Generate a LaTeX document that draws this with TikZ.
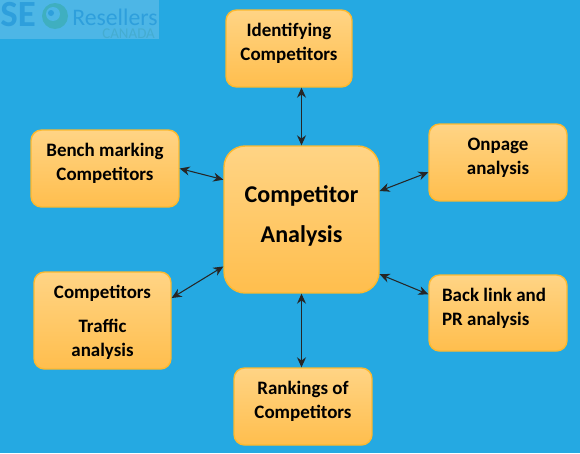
\documentclass[tikz,border=0pt]{standalone}
\usepackage{fontspec}
\setmainfont{Carlito}
\usepackage{xcolor}
\usetikzlibrary{arrows.meta,positioning}
\definecolor{skyc}{HTML}{25A9E2}
\definecolor{logobg}{HTML}{4DB6E6}
\definecolor{logoc}{HTML}{2E9FDC}
\definecolor{canc}{HTML}{45ACD0}
\definecolor{swirlc}{HTML}{3FAFC0}
\definecolor{topc}{HTML}{FFD485}
\definecolor{botc}{HTML}{FFBE4D}
\definecolor{linec}{HTML}{FDB92E}
\tikzset{
  ar/.style={{Stealth[length=2mm,width=1.8mm]}-{Stealth[length=2mm,width=1.8mm]},line width=0.6pt,black!85},
  box/.style={draw=linec,line width=0.8pt,top color=topc,bottom color=botc,rounded corners=6pt,align=center,inner sep=0pt,
    font=\fontsize{10.8}{13.7}\selectfont\bfseries,text=black,text depth=7.5pt,minimum height=1.54cm,minimum width=2.76cm},
  logotxt/.style={inner sep=0pt,anchor=base west}
}
\begin{document}
\begin{tikzpicture}[x=0.02cm,y=-0.02cm]
\fill[skyc] (0,0) rectangle (580,453);
\useasboundingbox (0,0) rectangle (580,453);
% logo
\fill[logobg] (0,0) rectangle (159,39);
\node[logotxt,text=logoc,font=\fontsize{21}{21}\selectfont\bfseries] (seo) at (0,26) {SE};
\fill[swirlc] (55,16) circle (13);
\fill[logobg] (53,14) circle (7);
\fill[logoc] (51,13) circle (3);
\node[logotxt,text=logoc,text depth=0pt,font=\fontsize{13.5}{13.5}\selectfont] (resellers) at (72,25) {Resellers};
\node[logotxt,text=canc,text height=5.5pt,font=\fontsize{8.5}{8.5}\selectfont] (canada) at (102,38.5) {CANADA};
% boxes
\node[box,draw=linec,rounded corners=12pt,minimum width=3.1cm,minimum height=2.94cm,text depth=6.5pt,
  font=\fontsize{13.7}{22.5}\selectfont\bfseries] (main) at (301.5,219.5) {Competitor\\Analysis};
\node[box,minimum width=2.52cm] (ident) at (289,48.5) {Identifying\\Competitors};
\node[box,minimum width=2.96cm] (bench) at (105,168.5) {Bench marking\\Competitors};
\node[box] (onpage) at (498,162.5) {Onpage\\analysis};
\node[box,minimum height=1.52cm,align=left] (backlink) at (498,313) {Back link and\hspace*{4.5pt}\\PR analysis};
\node[box,minimum width=2.74cm,minimum height=1.94cm,text depth=0pt] (traffic) at (102.5,320.5) {Competitors\\[5.5pt]Traffic\\analysis};
\node[box] (rank) at (303,406.5) {Rankings of\\Competitors};
% arrows
\draw[ar] (ident.south -| main.north) -- (main.north);
\draw[ar] (bench.east) -- (main.153.6);
\draw[ar] (onpage.188.6) -- (main.20.6);
\draw[ar] (backlink.165.4) -- (main.-35);
\draw[ar] (traffic.18.7) -- (main.211.8);
\draw[ar] (rank.north -| main.south) -- (main.south);
\end{tikzpicture}
\end{document}
